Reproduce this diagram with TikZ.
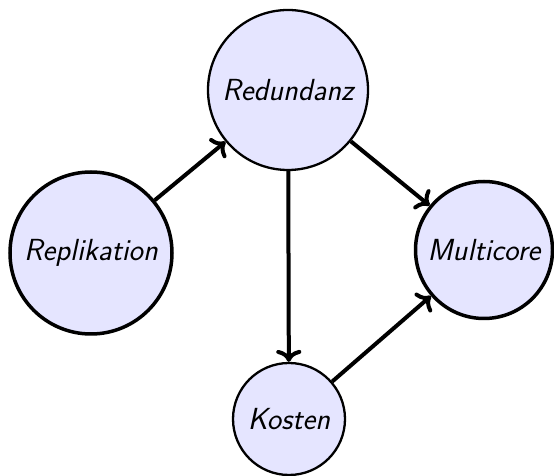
\documentclass[tikz,border=0pt]{standalone}
\usetikzlibrary{arrows.meta}
\begin{document}
\begin{tikzpicture}[x=1pt,y=1pt,
  topic/.style={circle, draw=black, fill=blue!10, inner sep=0pt,
    font=\fontsize{30.5}{36}\selectfont\sffamily\itshape},
  minor/.style={topic, line width=2.3pt},
  major/.style={topic, line width=3.5pt},
  link/.style={-{To[scale=1.15]}, line width=4pt}]
  \useasboundingbox (0,0) rectangle (554,476);
  \node[minor, minimum size=160pt] (red) at (288,386) {Redundanz};
  \node[major, minimum size=162pt] (rep) at (91,223) {Replikation};
  \node[major, minimum size=137pt] (mul) at (484,226) {Multicore};
  \node[minor, minimum size=112pt] (kos) at (289,57) {Kosten};
  \draw[link] (rep) -- (red);
  \draw[link] (red) -- (mul);
  \draw[link] (red) -- (kos);
  \draw[link] (kos) -- (mul);
\end{tikzpicture}
\end{document}
